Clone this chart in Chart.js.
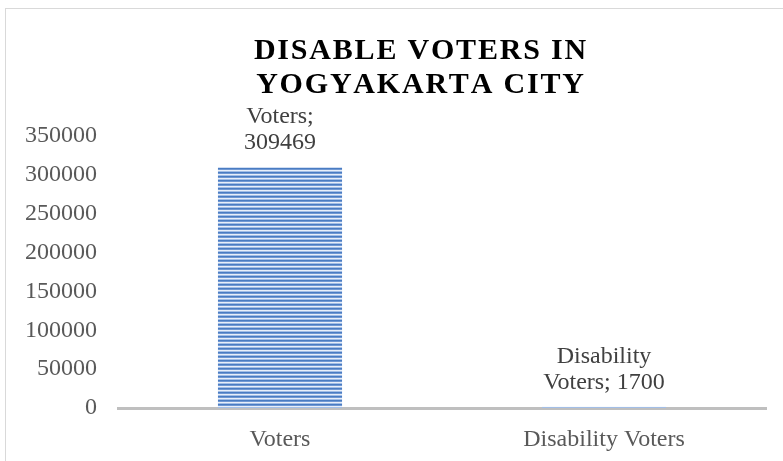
<!DOCTYPE html>
<html>
<head>
<meta charset="utf-8">
<script src="https://cdn.jsdelivr.net/npm/chart.js@4/dist/chart.umd.min.js"></script>
<style>
  html, body { margin: 0; padding: 0; background: #fff; }
  #wrap { position: relative; width: 783px; height: 461px; }
</style>
</head>
<body>
<div id="wrap"><canvas id="votersChart" width="783" height="461"></canvas></div>
<script>
// Chart data
const categories = ['Voters', 'Disability Voters'];
const voterCounts = [309469, 1700];
const pointLabels = [['Voters;', '309469'], ['Disability', 'Voters; 1700']];
const titleLines = ['DISABLE VOTERS IN', 'YOGYAKARTA CITY'];
const yMax = 350000;
const yStep = 50000;

const serif = '"Liberation Serif", "Times New Roman", serif';

// striped fill like the original bar
function stripe_pattern()
{
    const c = document.createElement('canvas');
    c.width = 1;
    c.height = 4;
    const g = c.getContext('2d');
    const rows = ['#4a7cc2', '#7098d3', '#e8eff9', '#a3bee6'];
    for (let i = 0; i < rows.length; i++) {
        g.fillStyle = rows[i];
        g.fillRect(0, i, 1, 1);
    }
    return g.createPattern(c, 'repeat');
}

// background + outer border + title with letter spacing
const frame = {
    id: 'frame',
    beforeDraw(chart) {
        const ctx = chart.ctx;
        ctx.save();
        ctx.fillStyle = '#ffffff';
        ctx.fillRect(0, 0, chart.width, chart.height);
        ctx.strokeStyle = '#d9d9d9';
        ctx.lineWidth = 1;
        ctx.strokeRect(5.5, 8.5, chart.width + 20, chart.height + 20);
        ctx.restore();
    },
    afterDraw(chart) {
        const ctx = chart.ctx;
        const spacing = 1.8;
        const cx = 420;
        const baselines = [59, 93];
        ctx.save();
        ctx.font = 'bold 30px ' + serif;
        ctx.fillStyle = '#000000';
        ctx.textBaseline = 'alphabetic';
        ctx.textAlign = 'left';
        titleLines.forEach(function (line, k) {
            let total = 0;
            for (const ch of line) total += ctx.measureText(ch).width;
            total += spacing * (line.length - 1);
            let x = cx - total / 2;
            for (const ch of line) {
                ctx.fillText(ch, x, baselines[k]);
                x += ctx.measureText(ch).width + spacing;
            }
        });
        ctx.restore();
    }
};

// "Category; value" labels above bars
const barLabels = {
    id: 'barLabels',
    afterDatasetsDraw(chart) {
        const ctx = chart.ctx;
        const meta = chart.getDatasetMeta(0);
        ctx.save();
        ctx.font = '24px ' + serif;
        ctx.fillStyle = '#404040';
        ctx.textAlign = 'center';
        ctx.textBaseline = 'alphabetic';
        meta.data.forEach(function (bar, i) {
            const lines = pointLabels[i];
            const top = Math.min(bar.y, bar.base);
            for (let j = 0; j < lines.length; j++) {
                const off = 18 + (lines.length - 1 - j) * 26;
                ctx.fillText(lines[j], bar.x, top - off);
            }
        });
        ctx.restore();
    }
};

const ctx = document.getElementById('votersChart');
new Chart(ctx, {
    type: 'bar',
    data: {
        labels: categories,
        datasets: [{
            data: voterCounts,
            backgroundColor: stripe_pattern(),
            borderWidth: 0,
            categoryPercentage: 1,
            barPercentage: 0.383,
        }]
    },
    options: {
        responsive: false,
        animation: false,
        layout: {
            padding: { top: 136, right: 17, bottom: 0, left: 0 }
        },
        plugins: {
            legend: { display: false },
            title: { display: false },
            tooltip: { enabled: false },
        },
        scales: {
            x: {
                z: 1,
                grid: { display: false },
                border: { display: true, color: '#bfbfbf', width: 3 },
                ticks: {
                    color: '#595959',
                    font: { family: serif, size: 24 },
                    padding: 9,
                },
                afterFit(scale) { scale.height = 53; }
            },
            y: {
                min: 0,
                max: yMax,
                grid: { display: false },
                border: { display: false },
                ticks: {
                    stepSize: yStep,
                    color: '#595959',
                    font: { family: serif, size: 24 },
                    padding: 13,
                    callback: function (v) { return String(v); }
                },
                afterFit(scale) { scale.width = 118; }
            }
        }
    },
    plugins: [frame, barLabels]
});
</script>
</body>
</html>
